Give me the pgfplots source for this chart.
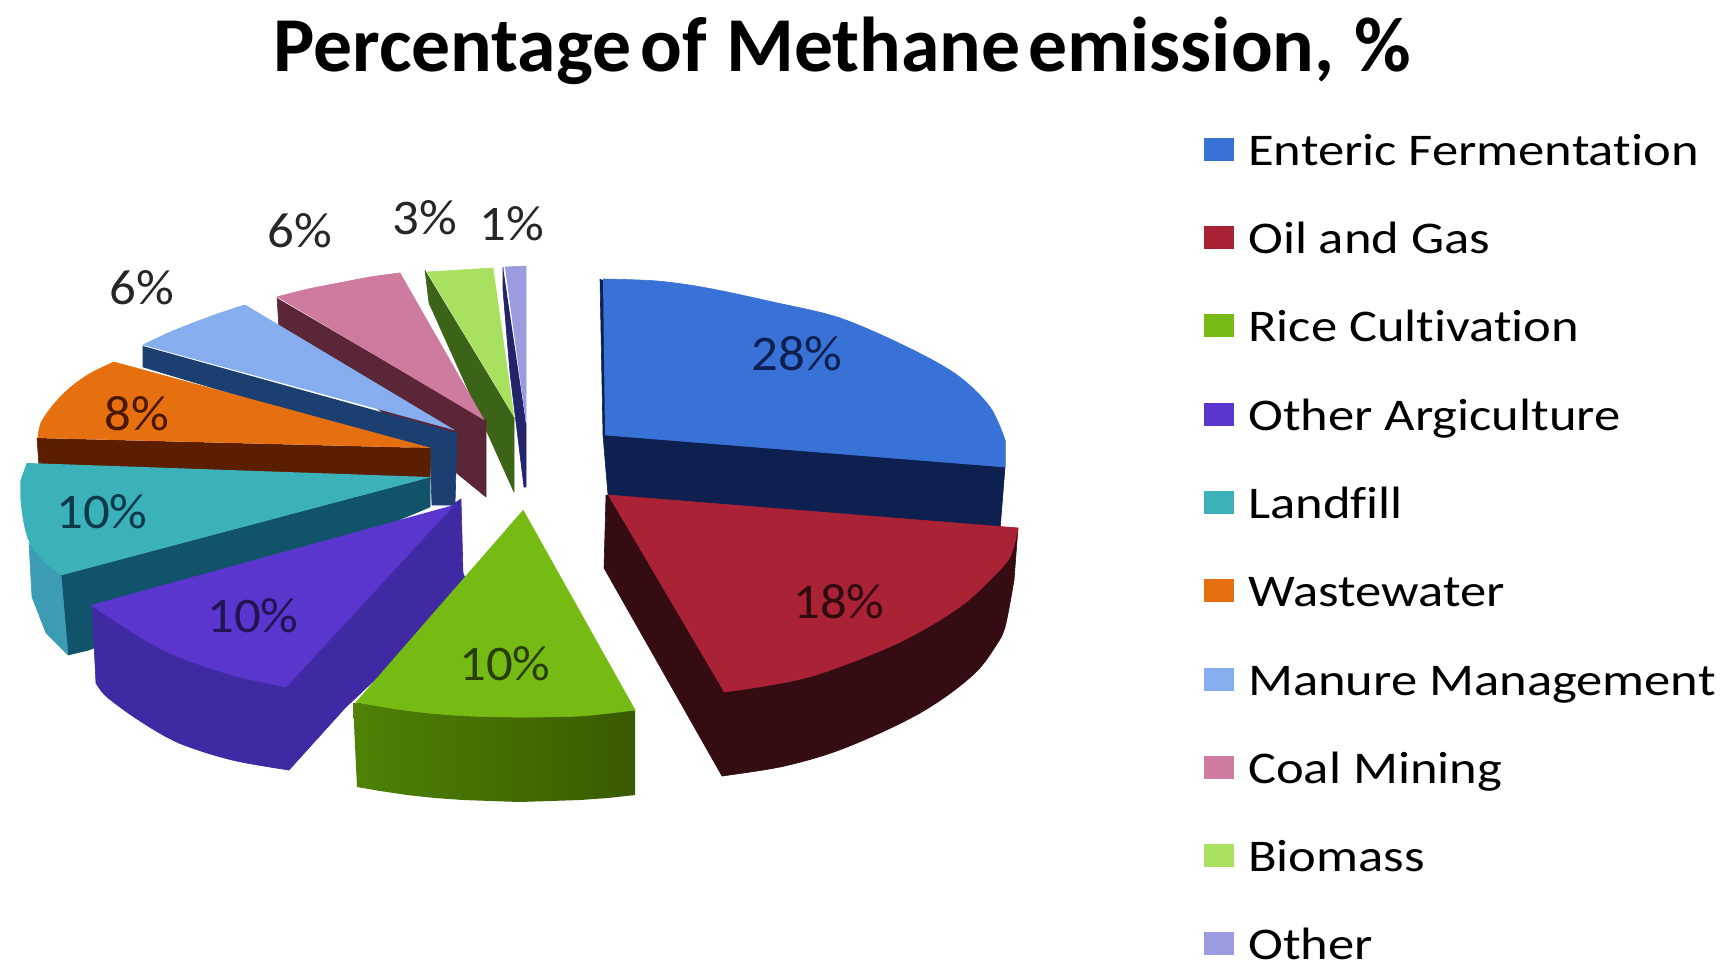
\documentclass[border=0pt]{standalone}
\usepackage{fontspec}
\setmainfont[Ligatures=NoCommon]{Carlito}
\newfontfamily\legendfont[Ligatures=NoCommon,FakeStretch=1.16]{Carlito}
\newfontfamily\labelfont[Ligatures=NoCommon,FakeStretch=1.06]{Carlito}
\usepackage{pgfplots}
\pgfplotsset{compat=1.18}

\definecolor{entTop}{HTML}{3872D6}\definecolor{entSide}{HTML}{0E2050}
\definecolor{oilTop}{HTML}{A92235}\definecolor{oilSide}{HTML}{340C12}
\definecolor{riceTop}{HTML}{76BB14}\definecolor{riceL}{HTML}{4F8205}\definecolor{riceR}{HTML}{3A5A00}
\definecolor{agTop}{HTML}{5A36CF}\definecolor{agSide}{HTML}{3F2AA3}
\definecolor{lfTop}{HTML}{3BB1BA}\definecolor{lfOut}{HTML}{3C9CB4}\definecolor{lfIn}{HTML}{11536A}
\definecolor{wwTop}{HTML}{E66F10}\definecolor{wwSide}{HTML}{5C1E00}
\definecolor{mmTop}{HTML}{86AEEE}\definecolor{mmSide}{HTML}{1C3F72}
\definecolor{coalTop}{HTML}{CF7A9F}\definecolor{coalSide}{HTML}{5A2638}
\definecolor{bioTop}{HTML}{A8E060}\definecolor{bioSide}{HTML}{3C6418}
\definecolor{othTop}{HTML}{9B9CE0}\definecolor{othSide}{HTML}{23246A}
\definecolor{inkText}{HTML}{262626}

\pgfplotsset{
  wedge/.style={fill=#1,draw=#1,line width=0.6bp,line join=round,forget plot,mark=none},
  rim/.style={wedge=#1,smooth,tension=0.55},
  swatch/.style={legend image code/.code={\fill[##1,draw=none] (0bp,4.5bp) rectangle (30bp,27.5bp);}},
}
\tikzset{pct/.style={font=\labelfont\fontsize{50}{50}\selectfont}}

\begin{document}
\begin{tikzpicture}
\path[use as bounding box] (0,0) rectangle (1726bp,971bp);
\begin{axis}[
  scale only axis, width=1726bp, height=971bp,
  xmin=0, xmax=1726, ymin=0, ymax=971, y dir=reverse,
  hide axis, clip=false,
  legend cell align=left,
  legend style={at={(axis cs:1204,105)},anchor=north west,draw=none,fill=none,inner sep=0pt,
    font=\legendfont\fontsize{45.5}{45.5}\selectfont,
    column sep=14bp,row sep=28.3bp,
    nodes={inner sep=0pt,text height=60bp,text depth=0bp,anchor=base west}},
]
\addlegendimage{swatch,fill=entTop}\addlegendentry{Enteric Fermentation}
\addlegendimage{swatch,fill=oilTop}\addlegendentry{Oil and Gas}
\addlegendimage{swatch,fill=riceTop}\addlegendentry{Rice Cultivation}
\addlegendimage{swatch,fill=agTop}\addlegendentry{Other Argiculture}
\addlegendimage{swatch,fill=lfTop}\addlegendentry{Landfill}
\addlegendimage{swatch,fill=wwTop}\addlegendentry{Wastewater}
\addlegendimage{swatch,fill=mmTop}\addlegendentry{Manure Management}
\addlegendimage{swatch,fill=coalTop}\addlegendentry{Coal Mining}
\addlegendimage{swatch,fill=bioTop}\addlegendentry{Biomass}
\addlegendimage{swatch,fill=othTop}\addlegendentry{Other}

% Other, 1 %
\addplot[wedge=othSide] coordinates {(503,267)(503,290)(510,373)(524,487)(526,487)(526,423)};
\addplot[wedge=othTop] coordinates {(505,267)(526,266)(526,423)};
% Biomass, 3 %
\addplot[wedge=bioSide] coordinates {(425,270)(429,303)(514,492)(514,417)};
\addplot[wedge=bioTop] coordinates {(427,272)(460,270)(493,268)(514,417)};
% Coal Mining, 6 %
\addplot[wedge=coalSide] coordinates {(277,298)(279,328)(486,497)(486,420)};
\addplot[wedge=coalTop] coordinates {(277,297)(339,283)(400,273)(484,420)};
\addplot[rim=coalTop] coordinates {(277,297)(308,289)(339,283)(370,277)(400,273)};
% Manure Management, 6 %
\addplot[wedge=mmSide] coordinates {(143,346)(143,367)(430,453)(432,505)(455,505)(457,433)};
\addplot[wedge=mmTop] coordinates {(143,345)(193,323)(245,305)(454,430)};
\addplot[rim=mmTop] coordinates {(143,345)(168,333)(193,323)(220,313)(245,305)};
% Wastewater, 8 %
\addplot[wedge=wwSide] coordinates {(37,438)(39,466)(430,480)(430,448)};
\addplot[wedge=wwTop] coordinates {(38,438)(41,423)(71,387)(114,362)(430,448)};
\addplot[rim=wwTop] coordinates {(38,438)(41,423)(54,404)(71,387)(91,373)(114,362)};
% Landfill, 10 %
\addplot[wedge=lfIn] coordinates {(61,575)(68,655)(89,650)(430,507)(430,477)};
\addplot[wedge=lfOut] coordinates {(29,543)(32,597)(46,633)(68,655)(61,575)};
\addplot[wedge=lfTop] coordinates {(27,463)(21,480)(21,500)(30,543)(61,575)(430,477)};
\addplot[rim=lfTop] coordinates {(21,480)(21,500)(24,523)(30,543)(44,561)(61,575)};
% Other Agriculture, 10 %; its far corner runs on beneath the rice wedge
\addplot[wedge=agSide] coordinates {(92,605)(96,683)(179,743)(289,770)(345,708)(470,590)(463,573)(461,499)(452,505)(286,687)};
\addplot[rim=agSide] coordinates {(96,683)(107,697)(140,721)(179,743)(232,760)(289,770)};
\addplot[wedge=agTop] coordinates {(91,605)(179,657)(286,687)(454,505)};
\addplot[rim=agTop] coordinates {(91,605)(118,623)(147,641)(179,657)(232,675)(286,687)};
% Rice Cultivation, 10 %
\addplot[left color=riceL,right color=riceR,draw=none,forget plot,mark=none] coordinates {(353,703)(357,787)(380,791)(407,795)(435,798)(463,800)(491,801)(519,802)(550,801)(580,800)(608,798)(635,795)(635,710)};
\addplot[wedge=riceTop] coordinates {(523,510)(635,710)(519,717)(429,713)(356,702)};
\addplot[rim=riceTop] coordinates {(635,710)(580,716)(519,717)(470,716)(429,713)(390,708)(356,702)};
% Enteric Fermentation, 28 %
\addplot[wedge=entSide] coordinates {(600,279)(603,435)(608,495)(1000,530)(1005,467)(1005,440)};
\addplot[wedge=entTop] coordinates {(603,279)(840,318)(1005,440)(1005,467)(605,435)};
\addplot[rim=entTop] coordinates {(603,279)(657,281)(707,288)(773,302)(840,318)(907,347)(957,375)(990,407)(1005,440)};
% Oil and Gas, 18 %
\addplot[wedge=oilSide] coordinates {(606,495)(604,568)(722,776)(920,713)(1014,580)(1018,528)};
\addplot[rim=oilSide] coordinates {(722,776)(780,767)(831,753)(880,733)(920,713)(952,692)(978,670)(995,647)(1005,627)(1014,580)};
\addplot[wedge=oilTop] coordinates {(608,495)(1018,528)(898,643)(724,692)};
\addplot[rim=oilTop] coordinates {(1018,528)(1010,557)(990,580)(965,603)(935,623)(898,643)(855,661)(809,677)(765,686)(724,692)};

% Percentages printed on and around the wedges
\node[pct,text=entSide] at (axis cs:797,354) {28\%};
\node[pct,text=oilSide!90!black] at (axis cs:839,602) {18\%};
\node[pct,text=riceR!70!black] at (axis cs:505,664) {10\%};
\node[pct,text=agSide!50!black] at (axis cs:253,616) {10\%};
\node[pct,text=lfIn!70!black] at (axis cs:102,512) {10\%};
\node[pct,text=wwSide!80!black] at (axis cs:137,414) {8\%};
\node[pct,text=inkText] at (axis cs:142,288) {6\%};
\node[pct,text=inkText] at (axis cs:300,231) {6\%};
\node[pct,text=inkText] at (axis cs:425,218) {3\%};
\node[pct,text=inkText] at (axis cs:512,224) {1\%};

\node[font=\fontsize{78}{78}\selectfont\bfseries,text=black,anchor=base] at (axis cs:842,72) {Percentage\hspace{0.12em}of\hspace{0.25em}Methane\hspace{0.1em}emission,\hspace{0.25em}\%};
\end{axis}
\end{tikzpicture}
\end{document}
